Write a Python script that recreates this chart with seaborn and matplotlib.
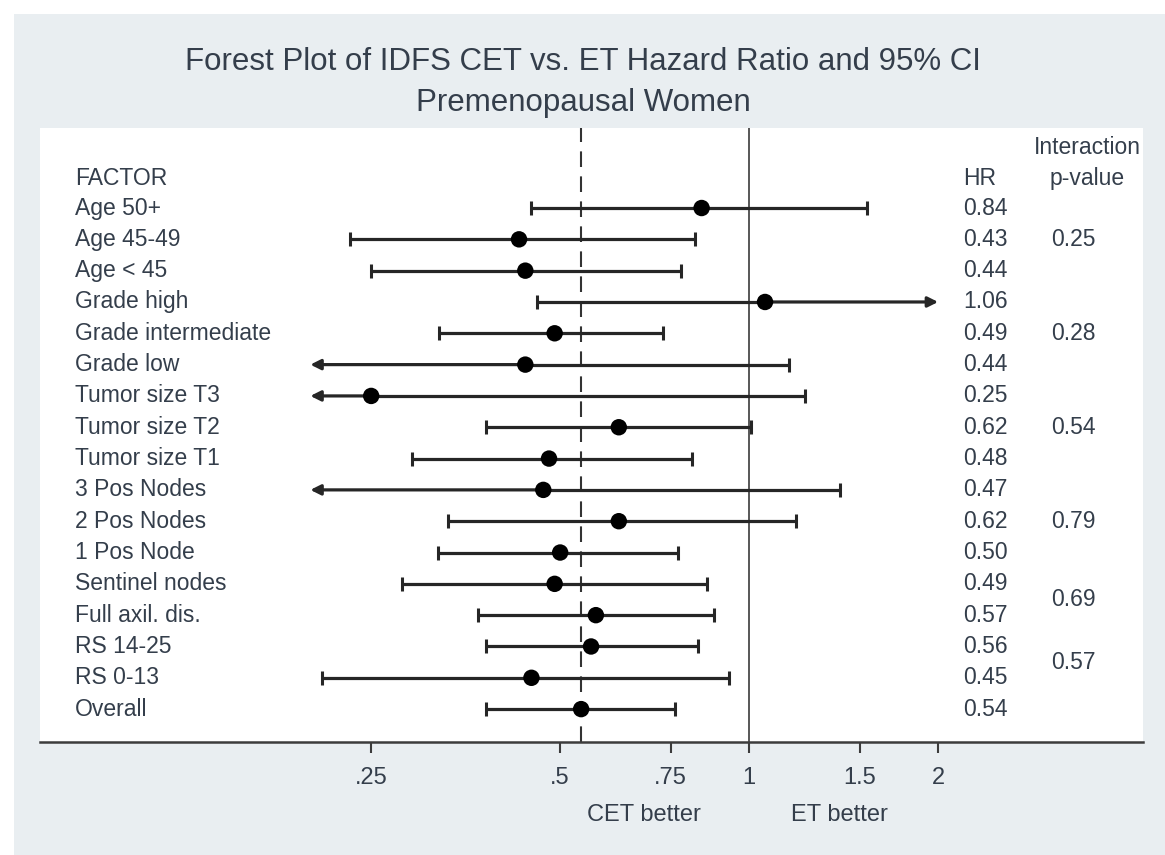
import matplotlib
matplotlib.use("Agg")
import matplotlib.pyplot as plt
from matplotlib.patches import Rectangle
import seaborn as sns
import pandas as pd

# ---- data ----
factors = ["Age 50+", "Age 45-49", "Age < 45", "Grade high", "Grade intermediate",
           "Grade low", "Tumor size T3", "Tumor size T2", "Tumor size T1",
           "3 Pos Nodes", "2 Pos Nodes", "1 Pos Node", "Sentinel nodes",
           "Full axil. dis.", "RS 14-25", "RS 0-13", "Overall"]
hr = [0.84, 0.43, 0.44, 1.06, 0.49, 0.44, 0.25, 0.62, 0.48, 0.47, 0.62, 0.50,
      0.49, 0.57, 0.56, 0.45, 0.54]
ci_low = [0.450, 0.231, 0.250, 0.460, 0.321, 0.17, 0.10, 0.381, 0.290, 0.16,
          0.331, 0.320, 0.280, 0.370, 0.381, 0.209, 0.381]
ci_high = [1.54, 0.819, 0.780, 2.60, 0.730, 1.156, 1.228, 1.006, 0.810, 1.398,
           1.186, 0.769, 0.858, 0.878, 0.828, 0.929, 0.761]
pvalues = ["0.25", "0.28", "0.54", "0.79", "0.69", "0.57"]
pvalue_rows = [1, 4, 7, 10, 12.5, 14.5]
tick_values = [0.25, 0.5, 0.75, 1, 1.5, 2]
tick_labels = [".25", ".5", ".75", "1", "1.5", "2"]
overall_hr = 0.54
display_min, display_max = 0.2, 2.0

df = pd.DataFrame({"factor": factors, "hr": hr, "lo": ci_low, "hi": ci_high})
df["row"] = range(len(df))

sns.set_theme(style="white")
plt.rcParams["font.family"] = ["Liberation Sans", "DejaVu Sans"]

W, H = 1165, 855
fig = plt.figure(figsize=(W / 100, H / 100), dpi=100, facecolor="white")
fig.patches.append(Rectangle((14 / W, 0), 1 - 14 / W, 1 - 14 / H,
                             transform=fig.transFigure, facecolor="#e9eef1",
                             edgecolor="none", zorder=-10))

ax_l, ax_r, ax_t, ax_b = 40, 1143, 128, 742
ax = fig.add_axes([ax_l / W, 1 - ax_b / H, (ax_r - ax_l) / W, (ax_b - ax_t) / H])
ax.set_facecolor("white")
ax.set_xscale("log")
ax.set_xlim(0.0742, 4.24)
ax.set_ylim(17.05, -2.555)

txt_col = "#343e4b"
line_col = "#262626"

# reference lines
ax.axvline(1, color="#4a4a4a", lw=1.3, zorder=1)
ax.axvline(overall_hr, color="#333333", lw=1.5, linestyle=(0, (7.5, 4.5)), zorder=1)

arrow_kw = dict(arrowstyle="-|>", lw=2.3, color=line_col, mutation_scale=15,
                shrinkA=0, shrinkB=0)

# CI lines, caps and arrows
for _, r in df.iterrows():
    y = r["row"]
    if r["lo"] >= display_min:
        ax.hlines(y, r["lo"], r["hr"], color=line_col, lw=2.3, zorder=2)
        ax.plot([r["lo"]], [y], marker="|", ms=10, mew=2.2, color=line_col, zorder=2)
    else:
        ax.annotate("", xy=(display_min, y), xytext=(r["hr"], y),
                    arrowprops=arrow_kw, zorder=2)
    if r["hi"] <= display_max:
        ax.hlines(y, r["hr"], r["hi"], color=line_col, lw=2.3, zorder=2)
        ax.plot([r["hi"]], [y], marker="|", ms=10, mew=2.2, color=line_col, zorder=2)
    else:
        ax.annotate("", xy=(display_max, y), xytext=(r["hr"], y),
                    arrowprops=arrow_kw, zorder=2)

sns.scatterplot(data=df, x="hr", y="row", ax=ax, color="black", s=140,
                edgecolor="none", zorder=3, legend=False)

# text columns
fs = 16.5
tr = ax.get_yaxis_transform()
x_fac = (75 - ax_l) / (ax_r - ax_l)
x_hr = (963 - ax_l) / (ax_r - ax_l)
x_pv = (1073 - ax_l) / (ax_r - ax_l)
x_int = (1087 - ax_l) / (ax_r - ax_l)
for _, r in df.iterrows():
    ax.text(x_fac, r["row"], r["factor"], transform=tr, ha="left", va="center",
            fontsize=fs, color=txt_col)
    ax.text(x_hr, r["row"], f"{r['hr']:.2f}", transform=tr, ha="left", va="center",
            fontsize=fs, color=txt_col)
for pv, pr in zip(pvalues, pvalue_rows):
    ax.text(x_pv, pr, pv, transform=tr, ha="center", va="center", fontsize=fs, color=txt_col)

ax.text(x_fac, -0.93, "FACTOR", transform=tr, ha="left", va="center", fontsize=fs, color=txt_col)
ax.text(x_hr, -0.93, "HR", transform=tr, ha="left", va="center", fontsize=fs, color=txt_col)
ax.text(x_int, -0.93, "p-value", transform=tr, ha="center", va="center", fontsize=fs, color=txt_col)
ax.text(x_int, -1.92, "Interaction", transform=tr, ha="center", va="center", fontsize=fs, color=txt_col)

# axes styling
for s in ["left", "top", "right"]:
    ax.spines[s].set_visible(False)
ax.spines["bottom"].set_color("#3c3c3c")
ax.spines["bottom"].set_linewidth(1.8)
ax.set_yticks([])
ax.set_xticks(tick_values)
ax.set_xticklabels(tick_labels)
ax.xaxis.set_minor_locator(matplotlib.ticker.NullLocator())
ax.tick_params(axis="x", which="major", direction="out", length=8, width=1.5,
               color="#3c3c3c", pad=10, labelsize=fs + 0.5, labelcolor=txt_col, bottom=True)
ax.set_xlabel("")
ax.set_ylabel("")

# titles and footer labels
fig.text(583 / W, 1 - 62 / H, "Forest Plot of IDFS CET vs. ET Hazard Ratio and 95% CI",
         ha="center", va="center", fontsize=22.5, color=txt_col)
fig.text(583 / W, 1 - 103 / H, "Premenopausal Women", ha="center", va="center",
         fontsize=22.5, color=txt_col)
fig.text(644 / W, 1 - 815 / H, "CET better", ha="center", va="center", fontsize=fs + 0.5, color=txt_col)
fig.text(839 / W, 1 - 815 / H, "ET better", ha="center", va="center", fontsize=fs + 0.5, color=txt_col)

fig.savefig("out.png", dpi=100, facecolor=fig.get_facecolor())
